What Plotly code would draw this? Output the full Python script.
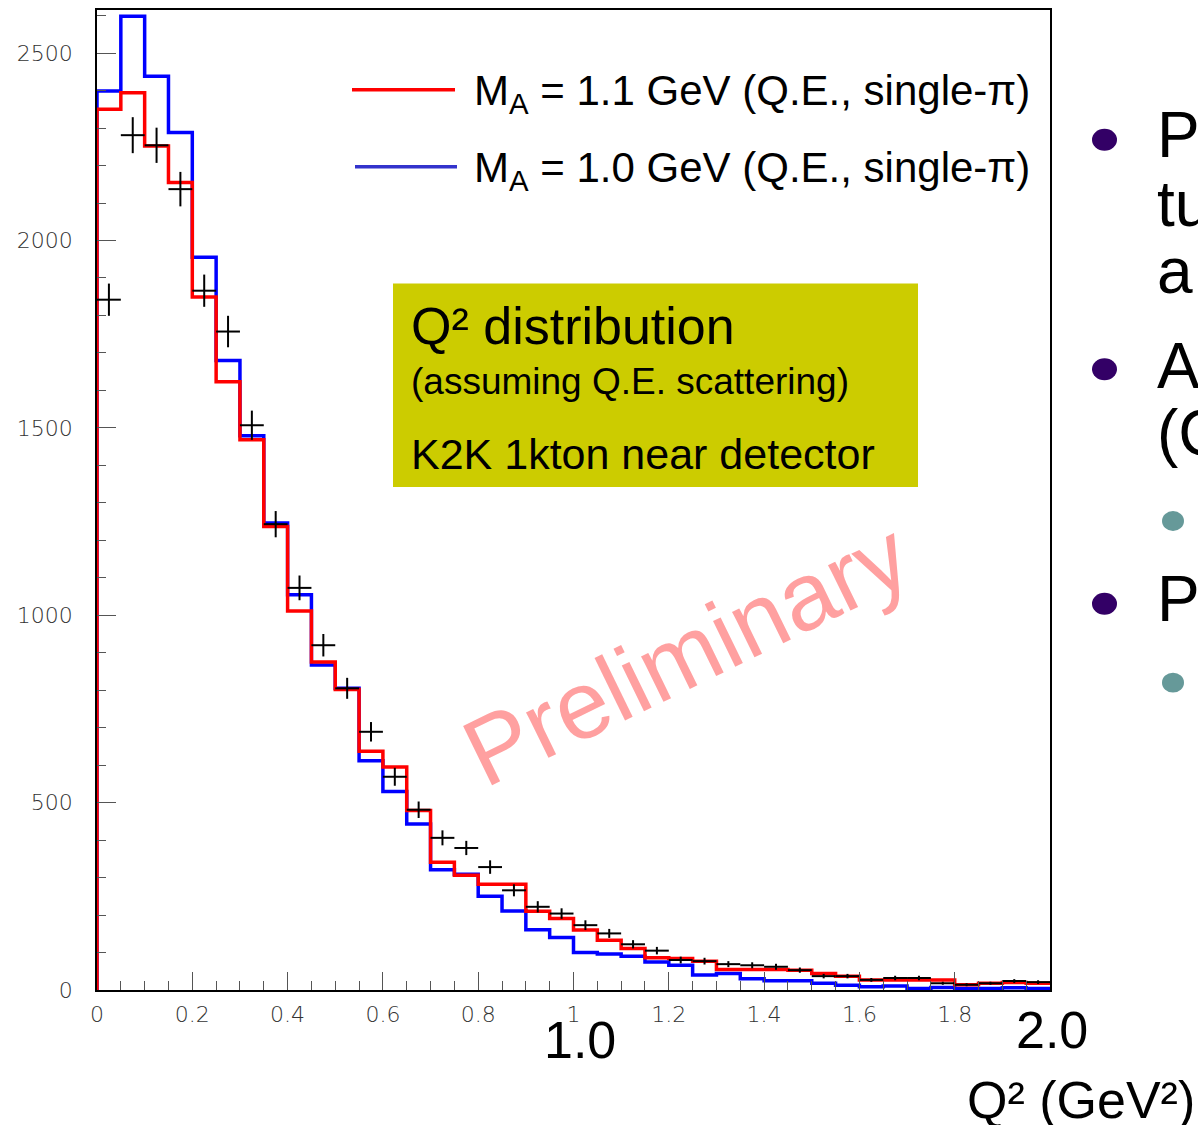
import plotly.graph_objects as go

# ---------------- data ----------------
q2_edges = [0.00, 0.05, 0.10, 0.15, 0.20, 0.25, 0.30, 0.35, 0.40, 0.45,
            0.50, 0.55, 0.60, 0.65, 0.70, 0.75, 0.80, 0.85, 0.90, 0.95,
            1.00, 1.05, 1.10, 1.15, 1.20, 1.25, 1.30, 1.35, 1.40, 1.45,
            1.50, 1.55, 1.60, 1.65, 1.70, 1.75, 1.80, 1.85, 1.90, 1.95, 2.00]

mc_ma11 = [2350, 2394, 2252, 2155, 1849, 1623, 1468, 1237, 1011, 875,
           802, 637, 595, 479, 341, 306, 282, 282, 210, 191,
           160, 133, 111, 86, 84, 77, 55, 55, 55, 53,
           44, 37, 27, 27, 27, 27, 14, 18, 20, 18]

mc_ma10 = [2399, 2598, 2438, 2288, 1955, 1680, 1479, 1246, 1055, 867,
           805, 612, 530, 443, 321, 309, 250, 211, 161, 140,
           100, 96, 90, 75, 66, 40, 44, 30, 25, 25,
           18, 13, 9, 11, 4, 7, 4, 4, 6, 4]

data_counts = [1842, 2281, 2254, 2137, 1866, 1757, 1507, 1243, 1073, 920,
               805, 689, 569, 481, 406, 379, 328, 266, 222, 204,
               173, 151, 122, 105, 80, 77, 69, 66, 62, 53,
               37, 37, 27, 32, 32, 18, 14, 18, 24, 21]

data_errors = [43, 48, 47, 46, 43, 42, 39, 35, 33, 30,
               28, 26, 24, 22, 20, 19, 18, 16, 15, 14,
               13, 12, 11, 10, 9, 9, 8, 8, 8, 7,
               6, 6, 5, 6, 6, 4, 4, 4, 5, 5]

x_tick_vals = [0, 0.2, 0.4, 0.6, 0.8, 1.0, 1.2, 1.4, 1.6, 1.8]
x_tick_text = ["0", "0.2", "0.4", "0.6", "0.8", "1", "1.2", "1.4", "1.6", "1.8"]
y_tick_vals = [0, 500, 1000, 1500, 2000, 2500]
y_tick_text = ["0", "500", "1000", "1500", "2000", "2500"]

label_ma11 = "M<sub>A</sub> = 1.1 GeV (Q.E., single-\u03c0)"
label_ma10 = "M<sub>A</sub> = 1.0 GeV (Q.E., single-\u03c0)"

# ---------------- layout geometry ----------------
W, H = 1198, 1125
L, R, T, B = 97, 1050, 8, 990   # plot area in pixels


def pxx(x):
    return (x - L) / (R - L)


def pxy(y):
    return (B - y) / (B - T)


def step_xy(edges, vals):
    xs = [edges[0]] + list(edges)
    ys = [0] + list(vals) + [vals[-1]]
    return xs, ys


fig = go.Figure()

xb, yb = step_xy(q2_edges, mc_ma10)
fig.add_trace(go.Scatter(x=xb, y=yb, mode="lines", line=dict(color="#0000ff", width=3.5, shape="hv"),
                         name=label_ma10, showlegend=False, hoverinfo="skip"))
xr, yr = step_xy(q2_edges, mc_ma11)
fig.add_trace(go.Scatter(x=xr, y=yr, mode="lines", line=dict(color="#ff0000", width=3.5, shape="hv"),
                         name=label_ma11, showlegend=False, hoverinfo="skip"))

centers = [(q2_edges[i] + q2_edges[i + 1]) / 2 for i in range(len(data_counts))]
half_w = [(q2_edges[i + 1] - q2_edges[i]) / 2 for i in range(len(data_counts))]
fig.add_trace(go.Scatter(
    x=centers, y=data_counts, mode="markers",
    marker=dict(size=1, color="black", opacity=0),
    error_x=dict(type="data", array=half_w, symmetric=True, color="black", thickness=2, width=0),
    error_y=dict(type="data", array=data_errors, symmetric=True, color="black", thickness=2, width=0),
    name="data", showlegend=False))

tick_font = dict(family="DejaVu Sans, Liberation Sans, sans-serif", size=22, color="#333333", weight=200)

fig.update_layout(
    width=W, height=H,
    margin=dict(l=L, r=W - R, t=T, b=H - B),
    paper_bgcolor="white", plot_bgcolor="white",
    xaxis=dict(range=[0, 2.0], showgrid=False, zeroline=False,
               showline=True, linecolor="black", linewidth=1.5, mirror=True,
               ticks="inside", ticklen=18, tickwidth=1, tickcolor="#555555",
               tickvals=x_tick_vals, ticktext=x_tick_text, tickfont=tick_font,
               ticklabelstandoff=4,
               minor=dict(dtick=0.05, ticks="inside", ticklen=9, tickcolor="#555555", tickwidth=1)),
    yaxis=dict(range=[0, 2615], showgrid=False, zeroline=False,
               showline=True, linecolor="black", linewidth=1.5, mirror=True,
               ticks="inside", ticklen=19, tickwidth=1, tickcolor="#555555",
               tickvals=y_tick_vals, ticktext=y_tick_text, tickfont=tick_font,
               ticklabelstandoff=18,
               minor=dict(dtick=100, ticks="inside", ticklen=9, tickcolor="#555555", tickwidth=1)),
)

shapes = []
# legend lines
shapes.append(dict(type="line", xref="paper", yref="paper", x0=pxx(352), x1=pxx(455), y0=pxy(88), y1=pxy(88),
                   line=dict(color="#ff0000", width=3.5)))
shapes.append(dict(type="line", xref="paper", yref="paper", x0=pxx(355), x1=pxx(457), y0=pxy(165), y1=pxy(165),
                   line=dict(color="#3333cc", width=3.5)))
# yellow info box
shapes.append(dict(type="rect", xref="paper", yref="paper", x0=pxx(393), x1=pxx(918), y0=pxy(486), y1=pxy(282),
                   fillcolor="#cccc00", line=dict(width=0), layer="below"))
# slide bullets
for cy in [138, 368, 603]:
    shapes.append(dict(type="circle", xref="paper", yref="paper", x0=pxx(1092), x1=pxx(1117),
                       y0=pxy(cy + 11), y1=pxy(cy - 11), fillcolor="#330066", line=dict(width=0)))
for cy in [520, 682]:
    shapes.append(dict(type="circle", xref="paper", yref="paper", x0=pxx(1162), x1=pxx(1184),
                       y0=pxy(cy + 10), y1=pxy(cy - 10), fillcolor="#669999", line=dict(width=0)))
fig.update_layout(shapes=shapes)

AF = "Liberation Sans, Arial, sans-serif"
ann = []


def text(x, y, s, size, color="black", xanchor="left", angle=0):
    ann.append(dict(xref="paper", yref="paper", x=pxx(x), y=pxy(y), text=s, showarrow=False,
                    xanchor=xanchor, yanchor="middle", textangle=angle,
                    font=dict(family=AF, size=size, color=color)))


text(472, 92, label_ma11, 42)
text(472, 169, label_ma10, 42)
text(409, 325, "Q\u00b2 distribution", 52)
text(409, 380, "(assuming Q.E. scattering)", 37)
text(409, 453, "K2K 1kton near detector", 43)
text(580, 1040, "1.0", 52, xanchor="center")
text(1052, 1030, "2.0", 52, xanchor="center")
text(1197, 1100, "Q\u00b2 (GeV\u00b2)", 52, xanchor="right")
text(686, 653, "Preliminary", 96, color="rgba(255,120,120,0.7)", xanchor="center", angle=-26)
# slide text cut at the page edge
text(1155, 133, "P", 64)
text(1155, 202, "tu", 64)
text(1155, 270, "a", 64)
text(1155, 365, "A", 64)
text(1155, 432, "(C", 64)
text(1155, 598, "P", 64)
fig.update_layout(annotations=ann)

fig.write_html("out.html")
